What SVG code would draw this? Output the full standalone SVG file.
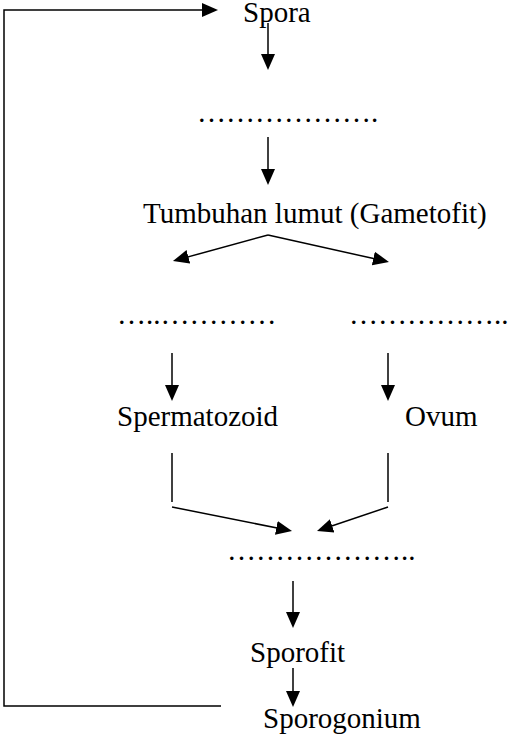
<svg xmlns="http://www.w3.org/2000/svg" width="512" height="742" viewBox="0 0 512 742">
  <style>
    .t { font-family: "Liberation Serif", "Times New Roman", serif; font-size: 29px; fill: #000; }
    .c { stroke: #000; stroke-width: 1.5; fill: none; }
  </style>
  <defs>
    <marker id="ah" viewBox="0 0 16 16" refX="6" refY="8" markerWidth="16" markerHeight="16" markerUnits="userSpaceOnUse" orient="auto">
      <path d="M0,1 L16,8 L0,15 z" fill="#000"/>
    </marker>
  </defs>
  <rect width="512" height="742" fill="#fff"/>

  <g id="connectors">
    <!-- return loop from Sporogonium to Spora -->
    <polyline class="c" points="221,706 4,706 4,10 208,10" marker-end="url(#ah)"/>
    <!-- Spora -> dots -->
    <line class="c" x1="268" y1="23" x2="268" y2="60" marker-end="url(#ah)"/>
    <!-- dots -> Tumbuhan -->
    <line class="c" x1="268" y1="137" x2="268" y2="175" marker-end="url(#ah)"/>
    <!-- Tumbuhan branches -->
    <line class="c" x1="268" y1="235" x2="182.6" y2="258.4" marker-end="url(#ah)"/>
    <line class="c" x1="268" y1="235" x2="379.2" y2="259.8" marker-end="url(#ah)"/>
    <!-- dots -> Spermatozoid / Ovum -->
    <line class="c" x1="172" y1="353" x2="172" y2="391" marker-end="url(#ah)"/>
    <line class="c" x1="388" y1="353" x2="388" y2="391" marker-end="url(#ah)"/>
    <!-- Spermatozoid / Ovum stems -->
    <line class="c" x1="172" y1="453" x2="172" y2="502"/>
    <line class="c" x1="388" y1="453" x2="388" y2="502"/>
    <!-- merge arrows -->
    <line class="c" x1="172" y1="507" x2="282.2" y2="529" marker-end="url(#ah)"/>
    <line class="c" x1="388" y1="507" x2="326.5" y2="527.8" marker-end="url(#ah)"/>
    <!-- dots -> Sporofit -->
    <line class="c" x1="293" y1="581" x2="293" y2="618" marker-end="url(#ah)"/>
    <!-- Sporofit -> Sporogonium -->
    <line class="c" x1="293" y1="668" x2="293" y2="697" marker-end="url(#ah)"/>
  </g>

  <g id="spora"><text class="t" x="243" y="22">Spora</text></g>
  <g id="blank1"><text class="t" x="197" y="122">&#8230;&#8230;&#8230;&#8230;&#8230;&#8230;.</text></g>
  <g id="gametofit"><text class="t" x="143" y="223">Tumbuhan lumut (Gametofit)</text></g>
  <g id="blank2"><text class="t" x="117" y="324">&#8230;..&#8230;&#8230;&#8230;&#8230;</text></g>
  <g id="blank3"><text class="t" x="349" y="324">&#8230;&#8230;&#8230;&#8230;&#8230;..</text></g>
  <g id="spermatozoid"><text class="t" x="117" y="426">Spermatozoid</text></g>
  <g id="ovum"><text class="t" x="405" y="426">Ovum</text></g>
  <g id="blank4"><text class="t" x="227" y="560">&#8230;&#8230;&#8230;&#8230;&#8230;&#8230;..</text></g>
  <g id="sporofit"><text class="t" x="250" y="662">Sporofit</text></g>
  <g id="sporogonium"><text class="t" x="263" y="728">Sporogonium</text></g>
</svg>
